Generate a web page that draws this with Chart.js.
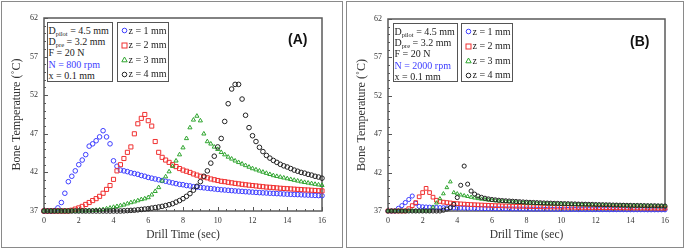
<!DOCTYPE html>
<html>
<head>
<meta charset="utf-8">
<script src="https://cdn.jsdelivr.net/npm/chart.js@4.4.1/dist/chart.umd.min.js"></script>
<style>
  body { margin: 0; background: #fff; width: 685px; height: 250px; overflow: hidden; position: relative; font-family: "Liberation Serif", serif; }
  .panel { position: absolute; border: 1.5px solid #8a8a8a; box-sizing: border-box; }
  canvas { position: absolute; top: 0; }
  .box { position: absolute; border: 1.5px solid #555; box-sizing: border-box; background: #fff; font-size: 10px; color: #222; white-space: nowrap; }
  .params { padding: 1.5px 0 0 1px; line-height: 11.4px; }
  .params sub { font-size: 6.5px; vertical-align: -1.5px; line-height: 0; }
  .blue { color: #3d3dff; }
  .legend { padding: 0.5px 0 0 3px; line-height: 14.6px; }
  .legend svg { vertical-align: -0.5px; margin-right: 1px; }
  .tag { position: absolute; font: bold 14px "Liberation Sans", Arial, sans-serif; color: #111; }
</style>
</head>
<body>
<div class="panel" style="left:1px;top:1px;width:342px;height:247px"></div>
<div class="panel" style="left:346px;top:1px;width:338px;height:247px"></div>
<canvas id="chartA" width="345" height="250" style="left:0"></canvas>
<canvas id="chartB" width="340" height="250" style="left:345px"></canvas>

<div class="box params" style="left:46.5px;top:22px;width:66px;height:60px">
  <div>D<sub>pilot</sub> = 4.5 mm</div>
  <div>D<sub>pre</sub> = 3.2 mm</div>
  <div>F = 20 N</div>
  <div class="blue">N = 800 rpm</div>
  <div>x = 0.1 mm</div>
</div>
<div class="box legend" style="left:116.5px;top:22px;width:52px;height:60px">
  <div><svg width="7" height="7"><circle cx="3.5" cy="3.5" r="2.3" fill="none" stroke="#3d3dff" stroke-width="1"/></svg>z = 1 mm</div>
  <div><svg width="7" height="7"><rect x="1" y="1" width="5" height="5" fill="none" stroke="#f03030" stroke-width="1"/></svg>z = 2 mm</div>
  <div><svg width="7" height="7"><polygon points="3.5,1 6.2,5.8 0.8,5.8" fill="none" stroke="#2fa52f" stroke-width="1"/></svg>z = 3 mm</div>
  <div><svg width="7" height="7"><circle cx="3.5" cy="3.5" r="2.3" fill="none" stroke="#222" stroke-width="1"/></svg>z = 4 mm</div>
</div>
<div class="tag" style="left:288px;top:31px">(A)</div>

<div class="box params" style="left:392.5px;top:23px;width:65px;height:59px">
  <div>D<sub>pilot</sub> = 4.5 mm</div>
  <div>D<sub>pre</sub> = 3.2 mm</div>
  <div>F = 20 N</div>
  <div class="blue">N = 2000 rpm</div>
  <div>x = 0.1 mm</div>
</div>
<div class="box legend" style="left:460.5px;top:23px;width:52.5px;height:59px">
  <div><svg width="7" height="7"><circle cx="3.5" cy="3.5" r="2.3" fill="none" stroke="#3d3dff" stroke-width="1"/></svg>z = 1 mm</div>
  <div><svg width="7" height="7"><rect x="1" y="1" width="5" height="5" fill="none" stroke="#f03030" stroke-width="1"/></svg>z = 2 mm</div>
  <div><svg width="7" height="7"><polygon points="3.5,1 6.2,5.8 0.8,5.8" fill="none" stroke="#2fa52f" stroke-width="1"/></svg>z = 3 mm</div>
  <div><svg width="7" height="7"><circle cx="3.5" cy="3.5" r="2.3" fill="none" stroke="#222" stroke-width="1"/></svg>z = 4 mm</div>
</div>
<div class="tag" style="left:630px;top:33px">(B)</div>

<script>
"use strict";

// drill time (sec), sampled every 0.2 s
var times = [
  0, 0.2, 0.4, 0.6, 0.8, 1, 1.2, 1.4, 1.6, 1.8,
  2, 2.2, 2.4, 2.6, 2.8, 3, 3.2, 3.4, 3.6, 3.8,
  4, 4.2, 4.4, 4.6, 4.8, 5, 5.2, 5.4, 5.6, 5.8,
  6, 6.2, 6.4, 6.6, 6.8, 7, 7.2, 7.4, 7.6, 7.8,
  8, 8.2, 8.4, 8.6, 8.8, 9, 9.2, 9.4, 9.6, 9.8,
  10, 10.2, 10.4, 10.6, 10.8, 11, 11.2, 11.4, 11.6, 11.8,
  12, 12.2, 12.4, 12.6, 12.8, 13, 13.2, 13.4, 13.6, 13.8,
  14, 14.2, 14.4, 14.6, 14.8, 15, 15.2, 15.4, 15.6, 15.8,
  16
];

var seriesLabels = ["z = 1 mm", "z = 2 mm", "z = 3 mm", "z = 4 mm"];

// (A) N = 800 rpm
var a800_z1 = [
  37, 37, 37, 37.05, 37.4, 38.1, 39.3, 40.8, 41.5, 42.2,
  43.0, 43.6, 44.3, 45.4, 45.7, 46.1, 46.6, 47.4, 46.6, 45.7,
  43.5, 42.8, 42.3, 42.2, 42.1, 41.95, 41.85, 41.75, 41.6, 41.5,
  41.35, 41.25, 41.15, 41.05, 40.95, 40.85, 40.75, 40.65, 40.55, 40.45,
  40.4, 40.3, 40.25, 40.15, 40.1, 40.05, 40.0, 39.95, 39.9, 39.85,
  39.8, 39.75, 39.72, 39.68, 39.64, 39.6, 39.57, 39.54, 39.5, 39.47,
  39.44, 39.41, 39.38, 39.35, 39.33, 39.3, 39.28, 39.25, 39.23, 39.2,
  39.18, 39.16, 39.14, 39.12, 39.1, 39.08, 39.06, 39.04, 39.02, 39.0,
  38.98
];
var a800_z2 = [
  37, 37, 37, 37, 37, 37, 37, 37, 37.1, 37.25,
  37.4, 37.6, 37.85, 38.1, 38.35, 38.6, 38.9, 39.3, 39.8, 40.3,
  41.1, 42.2, 43.0, 43.8, 44.6, 45.3, 47.0, 48.3, 49.0, 49.5,
  48.7, 48.0, 46.0, 44.6, 43.95, 43.6, 43.3, 43.0, 42.75, 42.5,
  42.3, 42.15, 42.0, 41.8, 41.65, 41.5, 41.4, 41.3, 41.15, 41.05,
  40.95, 40.85, 40.8, 40.72, 40.65, 40.58, 40.52, 40.46, 40.4, 40.35,
  40.3, 40.25, 40.2, 40.15, 40.1, 40.07, 40.03, 39.99, 39.95, 39.92,
  39.89, 39.86, 39.83, 39.8, 39.77, 39.74, 39.72, 39.69, 39.66, 39.63,
  39.6
];
var a800_z3 = [
  37, 37, 37, 37, 37, 37, 37, 37, 37, 37,
  37, 37.02, 37.03, 37.05, 37.07, 37.1, 37.15, 37.2, 37.3, 37.4,
  37.5, 37.6, 37.7, 37.8, 37.95, 38.1, 38.2, 38.35, 38.5, 38.6,
  38.75, 39.1, 39.55, 40.05, 40.9, 41.45, 42.1, 42.8, 43.5, 44.3,
  45.2, 46.4, 47.8, 48.8, 49.3, 48.7, 47.0, 46.0, 45.7, 45.3,
  45.0, 44.6, 44.3, 44.0, 43.75, 43.5, 43.3, 43.1, 42.9, 42.7,
  42.5, 42.35, 42.2, 42.05, 41.9, 41.75, 41.6, 41.5, 41.4, 41.3,
  41.2, 41.1, 41.0, 40.9, 40.8, 40.72, 40.64, 40.56, 40.48, 40.4,
  40.33
];
var a800_z4 = [
  37, 37, 37, 37, 37, 37, 37, 37, 37, 37,
  37, 37, 37, 37, 37, 37, 37, 37, 37, 37,
  37, 37, 37, 37.02, 37.05, 37.08, 37.1, 37.15, 37.2, 37.25,
  37.3, 37.38, 37.45, 37.52, 37.6, 37.7, 37.82, 37.95, 38.15, 38.35,
  38.6, 38.9, 39.25, 39.7, 40.2, 40.8, 41.5, 42.2, 43.2, 44.1,
  45.3, 46.4, 48.6, 50.9, 52.8, 53.4, 53.4, 51.5, 49.4, 47.8,
  46.75, 46.0, 45.25, 44.7, 44.2, 43.85, 43.55, 43.3, 43.05, 42.85,
  42.7, 42.5, 42.3, 42.15, 42.0, 41.9, 41.75, 41.65, 41.5, 41.4,
  41.25
];

// (B) N = 2000 rpm
var b2000_z1 = [
  37, 37, 37, 37.35, 37.7, 38.1, 38.5, 38.95, 38.0, 37.6,
  37.55, 37.52, 37.5, 37.48, 37.46, 37.44, 37.43, 37.42, 37.41, 37.4,
  37.39, 37.38, 37.37, 37.36, 37.35, 37.34, 37.33, 37.32, 37.31, 37.3,
  37.3, 37.29, 37.28, 37.28, 37.27, 37.27, 37.26, 37.26, 37.25, 37.25,
  37.24, 37.24, 37.23, 37.23, 37.23, 37.22, 37.22, 37.22, 37.21, 37.21,
  37.21, 37.2, 37.2, 37.2, 37.2, 37.19, 37.19, 37.19, 37.19, 37.18,
  37.18, 37.18, 37.18, 37.18, 37.17, 37.17, 37.17, 37.17, 37.17, 37.16,
  37.16, 37.16, 37.16, 37.16, 37.16, 37.15, 37.15, 37.15, 37.15, 37.15,
  37.15
];
var b2000_z2 = [
  37, 37, 37, 37, 37, 37, 37.3, 37.7, 38.1, 38.85,
  39.4, 39.95, 39.4, 38.8, 38.4, 38.25, 38.15, 38.1, 38.05, 38.0,
  37.96, 37.93, 37.9, 37.87, 37.84, 37.82, 37.8, 37.78, 37.76, 37.74,
  37.72, 37.7, 37.69, 37.67, 37.66, 37.64, 37.63, 37.62, 37.61, 37.6,
  37.59, 37.58, 37.57, 37.56, 37.55, 37.54, 37.53, 37.53, 37.52, 37.51,
  37.5, 37.5, 37.49, 37.49, 37.48, 37.47, 37.47, 37.46, 37.46, 37.45,
  37.45, 37.44, 37.44, 37.43, 37.43, 37.42, 37.42, 37.42, 37.41, 37.41,
  37.4, 37.4, 37.4, 37.39, 37.39, 37.38, 37.38, 37.38, 37.37, 37.37,
  37.37
];
var b2000_z3 = [
  37, 37, 37, 37, 37, 37, 37, 37, 37, 37,
  37, 37, 37, 37.5, 38.05, 38.6, 39.25, 40.05, 40.8, 39.4,
  39.25, 39.1, 39.0, 38.9, 38.8, 38.7, 38.62, 38.55, 38.49, 38.43,
  38.38, 38.34, 38.3, 38.26, 38.23, 38.2, 38.17, 38.14, 38.11, 38.08,
  38.05, 38.03, 38.01, 37.99, 37.98, 37.96, 37.95, 37.93, 37.92, 37.91,
  37.9, 37.89, 37.88, 37.86, 37.85, 37.84, 37.83, 37.82, 37.81, 37.8,
  37.79, 37.78, 37.77, 37.76, 37.75, 37.74, 37.73, 37.72, 37.72, 37.71,
  37.7, 37.69, 37.69, 37.68, 37.67, 37.66, 37.66, 37.65, 37.64, 37.64,
  37.63
];
var b2000_z4 = [
  37, 37, 37, 37, 37, 37, 37, 37, 37, 37,
  37, 37, 37, 37, 37, 37, 37.1, 37.25, 37.45, 37.85,
  38.75, 40.35, 42.85, 40.5, 39.6, 39.2, 38.95, 38.78, 38.66, 38.57,
  38.5, 38.45, 38.4, 38.36, 38.33, 38.3, 38.27, 38.24, 38.21, 38.18,
  38.15, 38.13, 38.11, 38.09, 38.07, 38.05, 38.03, 38.02, 38.0, 37.99,
  37.97, 37.96, 37.95, 37.93, 37.92, 37.9, 37.89, 37.88, 37.87, 37.86,
  37.84, 37.83, 37.82, 37.81, 37.8, 37.78, 37.77, 37.76, 37.75, 37.74,
  37.73, 37.72, 37.72, 37.71, 37.7, 37.69, 37.68, 37.68, 37.67, 37.66,
  37.65
];

var xMin = 0, xMax = 16, xStep = 2;
var yMin = 37, yMax = 62, yStep = 5;

var colors = ["#3d3dff", "#f03030", "#2fa52f", "#222222"];
var styles = ["circle", "rect", "triangle", "circle"];
var radii = [2.3, 2.9, 2.4, 2.3];

Chart.defaults.font.family = '"Liberation Serif", "Times New Roman", serif';
Chart.defaults.color = "#333";

function toPoints(values) {
  return values.map(function (v, i) { return { x: times[i], y: v }; });
}

// frame around the plot area plus small inward tick marks
var frameTicks = {
  id: "frameTicks",
  beforeDatasetsDraw: function (chart) {
    var ctx = chart.ctx, a = chart.chartArea;
    var x = chart.scales.x, y = chart.scales.y;
    ctx.save();
    ctx.strokeStyle = "#555";
    ctx.lineWidth = 1;
    ctx.beginPath();
    for (var t = xMin; t <= xMax + 0.001; t += 0.5) {
      var px = Math.round(x.getPixelForValue(t)) + 0.5;
      var len = (t % xStep === 0) ? 4 : 2;
      ctx.moveTo(px, a.bottom);
      ctx.lineTo(px, a.bottom - len);
    }
    for (var v = yMin; v <= yMax; v++) {
      var py = Math.round(y.getPixelForValue(v)) + 0.5;
      var l = ((v - yMin) % yStep === 0) ? 4 : 2;
      ctx.moveTo(a.left, py);
      ctx.lineTo(a.left + l, py);
    }
    ctx.stroke();
    ctx.lineWidth = 1.5;
    ctx.strokeStyle = "#5a5a5a";
    ctx.strokeRect(a.left, a.top, a.right - a.left, a.bottom - a.top);
    ctx.restore();
  }
};

function makeChart(id, seriesList, pad, yWidth, scale) {
  var datasets = seriesList.map(function (vals, i) {
    return {
      label: seriesLabels[i],
      data: toPoints(vals),
      pointStyle: styles[i],
      pointRadius: radii[i] * scale,
      pointBorderWidth: 1,
      borderColor: colors[i],
      backgroundColor: "rgba(0,0,0,0)",
      showLine: false,
      clip: false,
      order: 4 - i
    };
  });

  return new Chart(document.getElementById(id), {
    type: "scatter",
    data: { datasets: datasets },
    options: {
      responsive: false,
      animation: false,
      devicePixelRatio: 1,
      layout: { padding: pad },
      plugins: { legend: { display: false }, tooltip: { enabled: false } },
      scales: {
        x: {
          type: "linear",
          min: xMin, max: xMax,
          grid: { display: false, drawTicks: false },
          border: { display: false },
          ticks: { stepSize: xStep, padding: 5, font: { size: 8 }, color: "#333" },
          title: { display: true, text: "Drill Time (sec)", font: { size: 11.5 }, color: "#333", padding: { top: 0, bottom: 8.5 } },
          afterFit: function (s) { s.height = 39; }
        },
        y: {
          type: "linear",
          min: yMin, max: yMax,
          grid: { display: false, drawTicks: false },
          border: { display: false },
          ticks: { stepSize: yStep, padding: 6, font: { size: 8 }, color: "#333" },
          title: { display: true, text: "Bone Temperature (˚C)", font: { size: 12 }, color: "#333", padding: { top: 9.5, bottom: 0 } },
          afterFit: function (s) { s.width = yWidth; }
        }
      }
    },
    plugins: [frameTicks]
  });
}

makeChart("chartA", [a800_z1, a800_z2, a800_z3, a800_z4], { left: 0, right: 23, top: 18, bottom: 0 }, 44, 1);
makeChart("chartB", [b2000_z1, b2000_z2, b2000_z3, b2000_z4], { left: 0, right: 20, top: 19, bottom: 0 }, 43, 0.9);
</script>
</body>
</html>
